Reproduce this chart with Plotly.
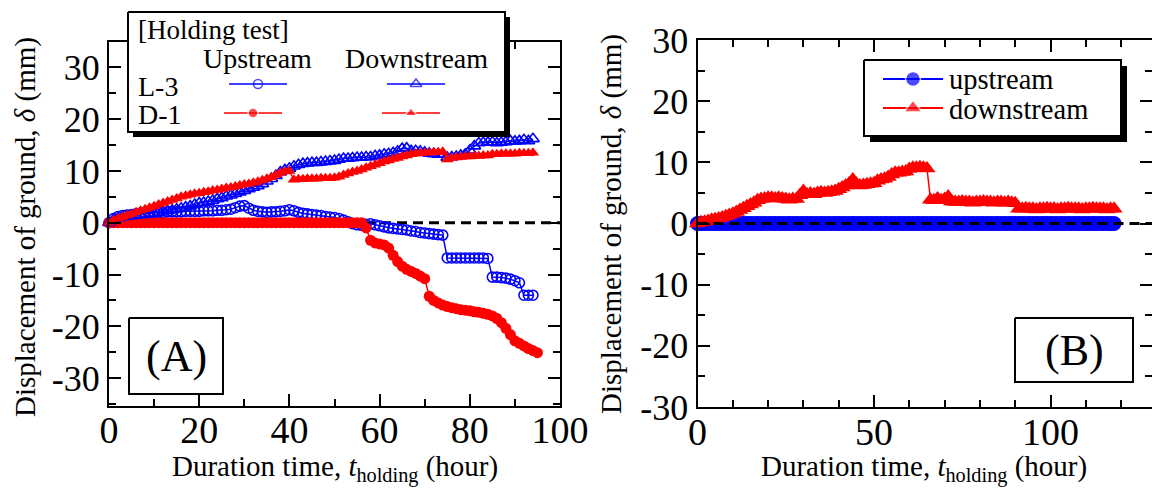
import plotly.graph_objects as go

W, H = 1152, 489
FONT = "Liberation Serif"

# ---------------- Panel A data (hours, mm) ----------------
tA = list(range(0, 96))

L3_up = [0.0, 0.8, 1.2, 1.4, 1.5, 1.6, 1.7, 1.8, 1.9, 2.0,
         2.0, 2.0, 2.0, 2.1, 2.1, 2.1, 2.1, 2.2, 2.2, 2.2,
         2.2, 2.3, 2.3, 2.3, 2.4, 2.4, 2.5, 2.6, 2.9, 3.2,
         3.3, 2.8, 2.4, 2.2, 2.1, 2.0, 2.1, 2.1, 2.2, 2.3,
         2.5, 2.3, 2.0, 1.8, 1.7, 1.6, 1.5, 1.4, 1.2, 1.1,
         1.0, 0.8, 0.5, 0.2, -0.2, -0.4, -0.5, -0.3, -0.2, -0.4,
         -0.6, -0.8, -1.0, -1.1, -1.2, -1.3, -1.4, -1.6, -1.7, -1.9,
         -2.0, -2.1, -2.2, -2.3, -2.4, -6.8, -6.8, -6.8, -6.8, -6.8,
         -6.8, -6.8, -6.8, -6.8, -6.9, -10.5, -10.5, -10.6, -10.7, -10.9,
         -11.2, -11.6, -14.0, -14.0, -14.0]

D1_up = [0, 0, 0, 0, 0, 0, 0, 0, 0, 0,
         0, 0, 0, 0, 0, 0, 0, 0, 0, 0,
         0, 0, 0, 0, 0, 0, 0, 0, 0, 0,
         0, 0, 0, 0, 0, 0, 0, 0, 0, 0,
         0, 0, 0, 0, 0, 0, 0, 0, 0, 0,
         0, 0, 0, 0, 0, 0, 0, -1.0, -3.4, -3.9,
         -4.1, -4.3, -4.9, -6.3, -7.5, -8.4, -9.0, -9.4, -9.8, -10.3,
         -10.8, -14.2, -15.0, -15.5, -15.9, -16.2, -16.4, -16.6, -16.8, -16.9,
         -17.0, -17.2, -17.3, -17.5, -17.7, -18.0, -18.5, -19.3, -20.4, -21.6,
         -22.8, -23.3, -23.8, -24.3, -24.7, -25.1]

L3_down = [0.0, 0.6, 0.9, 1.1, 1.2, 1.3, 1.4, 1.5, 1.6, 1.7,
           1.8, 2.0, 2.2, 2.3, 2.4, 2.6, 2.8, 3.0, 3.2, 3.5,
           3.8, 3.9, 4.1, 4.3, 4.6, 4.8, 5.1, 5.3, 5.6, 5.9,
           6.2, 6.5, 6.8, 7.1, 7.5, 8.0, 8.5, 9.1, 9.8, 10.2,
           10.5, 10.9, 11.2, 11.4, 11.5, 11.6, 11.6, 11.7, 11.8, 11.9,
           12.0, 12.2, 12.4, 12.4, 12.5, 12.6, 12.6, 12.7, 12.7, 12.9,
           13.0, 13.2, 13.3, 13.5, 13.8, 14.3, 14.4, 13.9, 13.9, 13.8,
           13.6, 13.4, 13.3, 13.2, 13.2, 12.6, 12.7, 12.8, 13.0, 13.2,
           14.0, 14.8, 15.4, 15.5, 15.5, 15.6, 15.4, 15.5, 15.6, 15.8,
           15.7, 15.8, 16.0, 15.8, 16.2]

D1_down = [0.0, 0.5, 0.8, 1.1, 1.4, 1.7, 2.0, 2.3, 2.6, 2.9,
           3.2, 3.5, 3.8, 4.1, 4.4, 4.7, 5.0, 5.2, 5.4, 5.6,
           5.7, 5.9, 6.0, 6.2, 6.3, 6.5, 6.7, 6.8, 7.0, 7.2,
           7.4, 7.5, 7.7, 7.9, 8.2, 8.5, 8.8, 9.2, 9.6, 9.9,
           10.0, 8.3, 8.4, 8.4, 8.5, 8.5, 8.5, 8.6, 8.6, 8.6,
           8.7, 8.9, 9.2, 9.5, 9.8, 10.0, 10.3, 10.6, 10.9, 11.2,
           11.5, 11.8, 12.0, 12.3, 12.5, 12.8, 13.0, 13.2, 13.3, 13.4,
           13.5, 13.5, 13.6, 13.6, 13.7, 12.2, 12.5, 12.6, 12.7, 12.8,
           12.8, 12.9, 12.9, 13.0, 13.0, 13.2, 13.2, 13.3, 13.3, 13.3,
           13.3, 13.4, 13.4, 13.4, 13.5]

# ---------------- Panel B data ----------------
tB = list(range(0, 119))

B_up = [0, 0, 0, 0, 0, 0, 0, 0, 0, 0,
        0, 0, 0, 0, 0, 0, 0, 0, 0, 0,
        0, 0, 0, 0, 0, 0, 0, 0, 0, 0,
        0, 0, 0, 0, 0, 0, 0, 0, 0, 0,
        0, 0, 0, 0, 0, 0, 0, 0, 0, 0,
        0, 0, 0, 0, 0, 0, 0, 0, 0, 0,
        0, 0, 0, 0, 0, 0, 0, 0, 0, 0,
        0, 0, 0, 0, 0, 0, 0, 0, 0, 0,
        0, 0, 0, 0, 0, 0, 0, 0, 0, 0,
        0, 0, 0, 0, 0, 0, 0, 0, 0, 0,
        0, 0, 0, 0, 0, 0, 0, 0, 0, 0,
        0, 0, 0, 0, 0, 0, 0, 0, 0]

B_down = [0.0, 0.2, 0.3, 0.4, 0.6, 0.7, 0.8, 1.0, 1.2, 1.4,
          1.6, 1.9, 2.2, 2.5, 2.8, 3.1, 3.4, 3.8, 4.0, 4.1,
          4.2, 4.2, 4.1, 4.2, 4.1, 4.0, 3.9, 4.0, 4.0, 4.6,
          5.3, 4.8, 4.9, 4.8, 5.0, 5.1, 5.0, 5.1, 5.2, 5.3,
          5.6, 5.9, 6.2, 6.6, 7.2, 6.5, 6.2, 6.3, 6.4, 6.5,
          6.6, 7.0, 7.2, 7.3, 7.6, 8.0, 8.3, 8.3, 8.4, 8.5,
          8.9, 9.1, 9.1, 9.2, 9.1, 9.0, 3.9, 3.8, 4.1, 3.8,
          4.0, 4.4, 3.6, 3.5, 3.5, 3.6, 3.5, 3.5, 3.4, 3.5,
          3.5, 3.6, 3.5, 3.5, 3.4, 3.5, 3.5, 3.4, 3.5, 3.4,
          3.3, 2.4, 2.4, 2.5, 2.4, 2.4, 2.3, 2.4, 2.4, 2.5,
          2.4, 2.4, 2.3, 2.4, 2.4, 2.5, 2.4, 2.4, 2.4, 2.3,
          2.4, 2.4, 2.5, 2.4, 2.4, 2.4, 2.3, 2.4, 2.4]

# ---------------- Tick labels ----------------
xA_ticks = [0, 20, 40, 60, 80, 100]
xA_minor = [10, 30, 50, 70, 90]
xB_ticks = [0, 50, 100]
xB_minor = [10, 20, 30, 40, 60, 70, 80, 90, 110, 120]
y_ticks = [-30, -20, -10, 0, 10, 20, 30]
y_ticktext = ["-30", "-20", "-10", "0", "10", "20", "30"]
y_minor = [-35, -25, -15, -5, 5, 15, 25, 35]

BLUE = "#0000FF"
RED = "#FF0000"

fig = go.Figure()

# ---- Panel A series ----
fig.add_trace(go.Scatter(x=tA[:len(L3_up)], y=L3_up, mode="lines+markers", cliponaxis=False,
                         line=dict(color=BLUE, width=1.5),
                         marker=dict(symbol="circle-open", size=10, color=BLUE, line=dict(width=1.6)),
                         xaxis="x", yaxis="y", showlegend=False))
fig.add_trace(go.Scatter(x=tA[:len(D1_up)], y=D1_up, mode="lines+markers", cliponaxis=False,
                         line=dict(color=RED, width=1.5),
                         marker=dict(symbol="circle", size=11, color=RED),
                         xaxis="x", yaxis="y", showlegend=False))
fig.add_trace(go.Scatter(x=tA[:len(L3_down)], y=L3_down, mode="lines+markers", cliponaxis=False,
                         line=dict(color=BLUE, width=1.5),
                         marker=dict(symbol="triangle-up-open", size=11, color=BLUE, line=dict(width=1.6)),
                         xaxis="x", yaxis="y", showlegend=False))
fig.add_trace(go.Scatter(x=tA[:len(D1_down)], y=D1_down, mode="lines+markers", cliponaxis=False,
                         line=dict(color=RED, width=1.5),
                         marker=dict(symbol="triangle-up", size=11, color=RED),
                         xaxis="x", yaxis="y", showlegend=False))

# ---- Panel B series ----
fig.add_trace(go.Scatter(x=tB[:len(B_up)], y=B_up, mode="lines+markers", cliponaxis=False,
                         line=dict(color=BLUE, width=1.5),
                         marker=dict(symbol="circle", size=15, color=BLUE),
                         xaxis="x2", yaxis="y2", showlegend=False))
fig.add_trace(go.Scatter(x=tB[:len(B_down)], y=B_down, mode="lines+markers", cliponaxis=False,
                         line=dict(color=RED, width=1.5),
                         marker=dict(symbol="triangle-up", size=15, color=RED),
                         xaxis="x2", yaxis="y2", showlegend=False))


# ---- decorations drawn on a pixel overlay (x3/y3) ----
def rect(x0, y0, x1, y1, fill, edge=None, lw=0):
    return go.Scatter(x=[x0, x1, x1, x0, x0], y=[y0, y0, y1, y1, y0], mode="lines",
                      fill="toself", fillcolor=fill,
                      line=dict(color=edge if edge else fill, width=lw if edge else 0),
                      xaxis="x3", yaxis="y3", showlegend=False, hoverinfo="skip")


def sample(xc, yc, half, color, symbol, size, lw=1.5, mlw=1.5):
    return go.Scatter(x=[xc - half, xc, xc + half], y=[yc, yc, yc], mode="lines+markers",
                      line=dict(color=color, width=lw),
                      marker=dict(symbol=symbol, size=[0, size, 0], color=color, line=dict(width=mlw)),
                      xaxis="x3", yaxis="y3", showlegend=False, hoverinfo="skip")


# Legend box A
fig.add_trace(rect(133, 17, 510, 137, "black"))
fig.add_trace(rect(128, 12, 505, 132, "white", "black", 2))
fig.add_trace(sample(258, 84, 29, BLUE, "circle-open", 9))
fig.add_trace(sample(416, 84, 29, BLUE, "triangle-up-open", 10))
fig.add_trace(sample(253, 113, 29, RED, "circle", 10))
fig.add_trace(sample(411, 113, 29, RED, "triangle-up", 11))
# Legend box B
fig.add_trace(rect(870, 66, 1127, 142, "black"))
fig.add_trace(rect(864, 60, 1121, 136, "white", "black", 2))
fig.add_trace(sample(913, 79, 30, BLUE, "circle", 15, 2))
fig.add_trace(sample(913, 108, 30, RED, "triangle-up", 16, 2))
# Label boxes
fig.add_trace(rect(129, 318, 223, 394, "white", "black", 2))
fig.add_trace(rect(1015, 318, 1133, 382, "white", "black", 2))

# zero dashed lines
fig.add_shape(type="line", xref="x domain", yref="y", x0=0, x1=1, y0=0, y1=0,
              line=dict(color="black", width=3, dash="10px,6px"), layer="below")
fig.add_shape(type="line", xref="x2 domain", yref="y2", x0=0, x1=1, y0=0, y1=0,
              line=dict(color="black", width=3, dash="10px,6px"), layer="above")

tick_font_x = dict(family=FONT, size=38, color="black")
tick_font_y = dict(family=FONT, size=36, color="black")

common = dict(showgrid=False, zeroline=False, showline=True, linecolor="black", linewidth=2,
              ticks="inside", ticklen=12, tickwidth=2, tickcolor="black", automargin=False,
              mirror="ticks")

fig.update_layout(
    template="none",
    width=W, height=H, margin=dict(l=0, r=0, t=0, b=0, pad=0), autosize=False,
    paper_bgcolor="white", plot_bgcolor="rgba(0,0,0,0)",
    font=dict(family=FONT, color="black"),
    xaxis=dict(domain=[109 / W, 560 / W], anchor="y", range=[0, 100],
               tickmode="array", tickvals=xA_ticks, ticktext=[str(v) for v in xA_ticks],
               tickfont=tick_font_x, ticklabelstandoff=-10,
               minor=dict(tickmode="array", tickvals=xA_minor, ticks="inside", ticklen=7, tickwidth=2, tickcolor="black"),
               **common),
    yaxis=dict(domain=[83.5 / H, 447 / H], anchor="x", range=[-35.3, 34.9],
               tickmode="array", tickvals=y_ticks, ticktext=y_ticktext, tickfont=tick_font_y,
               minor=dict(tickmode="array", tickvals=y_minor, ticks="inside", ticklen=7, tickwidth=2, tickcolor="black"),
               **common),
    xaxis2=dict(domain=[697.5 / W, 1.0], anchor="y2", range=[0, 128.75],
                tickmode="array", tickvals=xB_ticks, ticktext=[str(v) for v in xB_ticks],
                tickfont=tick_font_x, ticklabelstandoff=-10,
                minor=dict(tickmode="array", tickvals=xB_minor, ticks="inside", ticklen=7, tickwidth=2, tickcolor="black"),
                **common),
    yaxis2=dict(domain=[82 / H, 449 / H], anchor="x2", range=[-30, 30],
                tickmode="array", tickvals=y_ticks, ticktext=y_ticktext, tickfont=tick_font_y,
                minor=dict(tickmode="array", tickvals=y_minor[1:-1], ticks="inside", ticklen=7, tickwidth=2, tickcolor="black"),
                **common),
    xaxis3=dict(domain=[0, 1], anchor="y3", range=[0, W], visible=False, fixedrange=True, automargin=False),
    yaxis3=dict(domain=[0, 1], anchor="x3", range=[H, 0], visible=False, fixedrange=True, automargin=False),
)


def ann(x, y, text, size, xanchor="center", angle=0):
    fig.add_annotation(x=x / W, y=1 - y / H, xref="paper", yref="paper", text=text, showarrow=False,
                       xanchor=xanchor, yanchor="middle", textangle=angle,
                       font=dict(family=FONT, size=size, color="black"))


xtitle = "Duration time, <i>t</i><sub>holding</sub> (hour)"
ytitle = "Displacement of ground, <i>δ</i> (mm)"
ann(334.5, 468, xtitle, 29)
ann(924, 468, xtitle, 29)
ann(25, 227, ytitle, 29, angle=-90)
ann(612, 224, ytitle, 29, angle=-90)

# Legend A texts
ann(136, 30, "[Holding test]", 27, "left")
ann(201, 58, "Upstream", 28, "left")
ann(343, 58, "Downstream", 28, "left")
ann(136, 87, "L-3", 28, "left")
ann(136, 114, "D-1", 28, "left")
# Legend B texts
ann(947, 80, "upstream", 28.5, "left")
ann(947, 109, "downstream", 28.5, "left")
# Panel labels
ann(176, 356, "(A)", 44)
ann(1074, 350, "(B)", 44)

fig.write_html("out.html")
